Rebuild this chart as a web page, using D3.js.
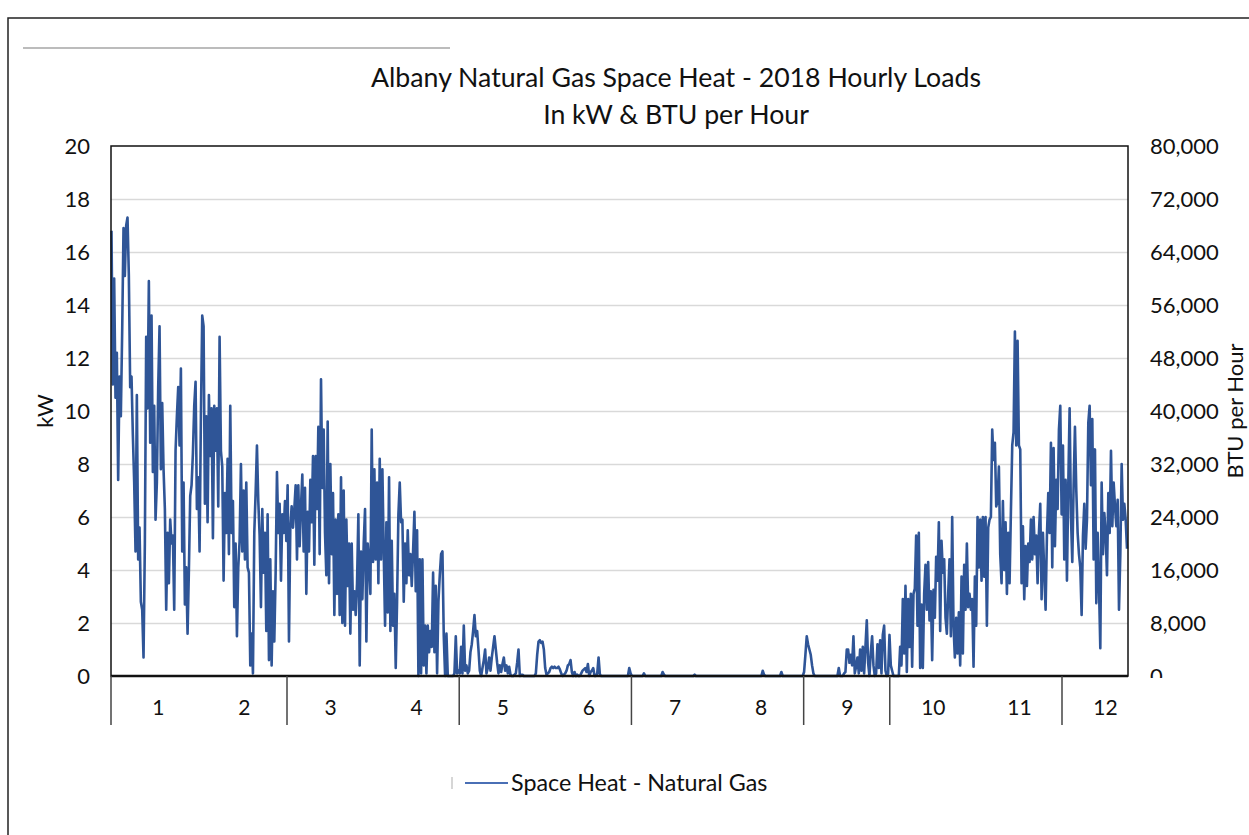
<!DOCTYPE html>
<html>
<head>
<meta charset="utf-8">
<script src="https://cdn.jsdelivr.net/npm/d3@7"></script>
<style>
html,body{margin:0;padding:0;background:#fff;overflow:hidden}
svg{display:block;font-family:Lato,"Open Sans",sans-serif}
</style>
</head>
<body>
<div id="chart"></div>
<script>
const loadJanFeb = [16.8,11.0,15.0,10.5,12.2,7.4,11.3,9.8,13.0,16.9,15.1,17.0,17.3,15.1,10.9,11.3,9.1,7.3,4.7,10.6,
    4.4,5.6,2.8,2.5,0.7,5.0,12.8,10.1,14.9,8.8,13.6,7.7,10.2,5.9,7.3,10.9,13.2,7.8,10.3,7.8,
    6.3,2.5,5.4,3.5,5.9,5.0,5.3,2.5,8.5,9.8,10.9,8.7,11.6,4.7,7.3,2.7,4.1,1.6,4.0,6.8,
    7.2,8.4,10.2,11.1,6.3,7.5,4.7,9.8,13.6,13.2,6.5,9.8,5.8,
    10.6,8.3,10.1,5.2,10.2,8.5,10.1,6.4,12.8,8.5,7.9,3.6,6.9,5.4,8.2,4.6,10.2,5.4,6.6,2.6,
    5.0,1.5,4.1,5.1,8.0,4.7,7.0,4.4,7.3,4.1,3.9,0.4,1.6,0.1,5.4,6.9,8.7,6.6,5.3,2.6,
    6.3,3.9,5.4,1.7,6.1,0.6,4.4,0.4,3.2,1.3,3.9,7.7,5.4,6.5,3.6,6.1,5.4,6.6,5.1,7.2,
    1.3,5.6,6.4,5.6,6.3,7.2,4.4,7.2,4.9,6.4];
const loadMarApr = [7.6,4.7,7.1,3.1,6.2,4.7,7.4,5.8,8.3,4.2,8.3,6.3,9.4,4.6,11.2,7.1,9.3,5.4,3.8,9.6,
    3.5,8.0,4.6,6.9,2.3,5.9,3.1,6.1,2.3,7.5,2.0,7.0,1.9,5.9,3.4,5.0,1.6,5.0,2.5,3.2,
    2.3,3.5,6.1,0.4,4.7,2.9,5.0,6.3,1.3,5.0,4.3,3.1,9.3,4.3,7.8,4.4,7.3,3.5,8.2,4.4,
    7.8,4.7,1.9,5.8,2.4,7.5,1.7,5.1,1.9,3.1,0.3,2.8,6.1,7.3,5.8,5.9,2.8,5.0,3.5,5.5,
    3.8,4.6,3.4,4.7,6.2,3.2,5.5,0.0,4.4,0.1,4.4,0.4,1.9,0.1,1.9,0.9,1.7,1.1,3.9,0.9,
    3.4,0.1,2.8,3.8,4.6,4.7,1.5,0.0,1.6,0.0,0.0,0.0,0.0,0.0,0.1,1.5,0.1,0.2,0.1,1.1,
    0.1,1.9,0.2,0.4,0.1,0.2,0.9,1.2,1.7,2.3,1.5];
const loadMayAug = [1.7,1.0,0.2,0,0.3,0.6,1.0,0.1,0.3,0.7,0.2,0.7,1.1,1.5,1.0,0.5,0.1,0.4,0.15,0.45,
    0.7,0.2,0.4,0.1,0.35,0.05,0,0,0.05,0.1,0.5,1.0,0,0.05,0.05,0,0,0,0,0,
    0,0,0,0,0.1,0.8,1.3,1.35,1.25,1.3,1.0,0.3,0.05,0.1,0.15,0.3,0.35,0.3,0.35,0.3,
    0.3,0.35,0.25,0.1,0,0.05,0.1,0.2,0.4,0.45,0.6,0.15,0,0.15,0,0.05,0,0,0.1,0.2,
    0.25,0.3,0.15,0.45,0,0.15,0.2,0.3,0,0,0.1,0.7,0.05,0,0,0,0,0,0,0,
    0,0,0,0,0,0,0,0,0,0,0,0,0,0,0.3,0.1,0,0,0,0,
    0,0,0,0,0,0.1,0,0,0,0,0,0,0,0,0,0,0,0,0,0.15,
    0.05,0,0,0,0,0,0,0,0,0,0,0,0,0,0,0,0,0,0,0,
    0,0,0,0.05,0,0,0,0,0,0,0,0,0,0,0,0,0,0,0,0,
    0,0,0,0,0,0,0,0,0,0,0,0,0,0,0,0,0,0,0,0,
    0,0,0,0,0,0,0,0,0,0,0,0,0,0,0.2,0.05,0,0,0,0,
    0,0,0,0,0,0,0,0,0.15,0,0,0,0,0,0,0,0,0,0,0,
    0,0,0,0,0,0.15,0.8,1.5,1.2,1.0,0.8,0.4,0.1,0,0,0,0,0,0,0,
    0,0,0,0,0,0,0,0,0,0,0];
const loadSepOct = [0.3,0,0,0,0.1,0.15,1.0,1.0,0.5,0.8,0.4,1.5,0.1,0.35,0.7,0.1,1.0,0.2,1.1,0.1,
    1.1,2.1,0.5,0,0.9,1.5,0.4,0,0.1,1.2,0.3,1.35,0.1,1.55,1.9,0.2,0,0.1,1.55,0.4,
    0.2,0,0,0,0,0,1.1,0.4,2.9,0.85,3.4,0.15,2.9,1.1,3.1,0.35,3.1,3.3,5.3,1.9,
    5.4,0.3,2.7,0.3,3.1,4.2,2.5,4.3,2.1,3.2,0.6,3.25,2.2,4.5,3.6,5.8,1.7,5.1,3.9,4.4,
    2.2,1.6,3.1,4.4,1.5,6.0,1.9,0.7,2.2,0.85,2.4,0.4,3.75,0.85,4.2,2.5,5.0,2.6,3.1,2.5,
    2.9,0.35,3.75,1.9,6.0,4.1,5.9,3.6,6.0,3.75,6.0,1.9,5.6,5.9,6.0,9.3,8.15,8.8,6.4,
    6.6,7.9,4.6,3.5];
const loadNovDec = [6.6,4.0,5.8,3.1,5.4,3.5,6.2,8.7,9.2,13.0,8.7,12.65,8.7,8.55,3.5,5.65,2.9,4.9,3.4,5.0,
    4.3,5.9,4.4,6.0,4.6,5.3,3.5,5.4,6.5,2.9,5.4,3.9,2.5,5.3,6.9,5.4,8.8,4.1,8.6,4.9,
    7.4,6.3,9.3,10.2,6.1,8.7,4.4,7.4,3.6,7.2,10.1,6.0,4.3,7.2,9.4,7.0,5.4,4.6,4.1,2.3,
    5.3,6.5,4.8,5.9,9.55,10.2,7.2,9.7,4.4,8.55,2.75,5.4,3.4,1.05,7.3,4.6,6.15,5.4,3.8,6.9,
    5.4,8.5,5.65,7.3,6.4,5.65,6.65,2.5,4.6,8.0,5.9,6.5,5.9,4.8];

const kwTicks = [0,2,4,6,8,10,12,14,16,18,20];
const btuTicks = [0,8000,16000,24000,32000,40000,48000,56000,64000,72000,80000];
const monthLabels = [1,2,3,4,5,6,7,8,9,10,11,12];
const monthDividers = [2.5,4.5,6.5,8.5,9.5,11.5];
const seriesName = "Space Heat - Natural Gas";
const titleLines = ["Albany Natural Gas Space Heat - 2018 Hourly Loads", "In kW & BTU per Hour"];

const width = 1249, height = 835;
const plot = {left: 111, right: 1128, top: 146, bottom: 676};
const lineColor = "#2f5597";

let series = [].concat(loadJanFeb, loadMarApr, loadMayAug, loadSepOct, loadNovDec);
let lastHour = 8759;
let points = series.map((v, i) => ({hour: i * lastHour / (series.length - 1), kw: v}));

let x = d3.scaleLinear().domain([0, lastHour]).range([plot.left + 0.5, plot.right - 1]);
let y = d3.scaleLinear().domain([0, 20]).range([plot.bottom, plot.top]);
let yBtu = d3.scaleLinear().domain([0, 80000]).range([plot.bottom, plot.top]);
let xMonth = d3.scaleLinear().domain([2.5, 11.5]).range([287, 1062]);

let svg = d3.select("#chart").append("svg")
    .attr("width", width)
    .attr("height", height);

// outer frame and the stray separator line
svg.append("rect")
    .attr("x", 8).attr("y", 18)
    .attr("width", width + 20).attr("height", height + 20)
    .attr("fill", "none").attr("stroke", "#222").attr("stroke-width", 1.5);
svg.append("line")
    .attr("x1", 23).attr("x2", 450).attr("y1", 48).attr("y2", 48)
    .attr("stroke", "#a6a6a6").attr("stroke-width", 1.5);

// title
svg.append("g").selectAll("text").data(titleLines).join("text")
    .attr("x", 676)
    .attr("y", (d, i) => 87 + i * 37)
    .attr("text-anchor", "middle")
    .attr("font-size", 26.7)
    .attr("fill", "#111")
    .text(d => d);

// grid
svg.append("g").selectAll("line")
    .data(kwTicks.filter(d => d > 0 && d < 20))
    .join("line")
    .attr("x1", plot.left).attr("x2", plot.right)
    .attr("y1", d => Math.round(y(d)) + 0.5).attr("y2", d => Math.round(y(d)) + 0.5)
    .attr("stroke", "#d9d9d9").attr("stroke-width", 1.5);

// data line
svg.append("path")
    .datum(points)
    .attr("fill", "none")
    .attr("stroke", lineColor)
    .attr("stroke-width", 2.6)
    .attr("stroke-linejoin", "round")
    .attr("d", d3.line().x(d => x(d.hour)).y(d => y(d.kw)));

// plot border
svg.append("rect")
    .attr("x", plot.left).attr("y", plot.top)
    .attr("width", plot.right - plot.left).attr("height", plot.bottom - plot.top)
    .attr("fill", "none").attr("stroke", "#111").attr("stroke-width", 1.5);
svg.append("line")
    .attr("x1", plot.left).attr("x2", plot.right)
    .attr("y1", plot.bottom).attr("y2", plot.bottom)
    .attr("stroke", "#111").attr("stroke-width", 2.5);

// left axis (kW)
let leftAxis = svg.append("g")
    .attr("transform", `translate(${plot.left},0)`)
    .call(d3.axisLeft(y).tickValues(kwTicks).tickSize(0).tickPadding(21));
leftAxis.select(".domain").remove();
leftAxis.selectAll("text").attr("font-size", 22).attr("font-family", "Lato").attr("fill", "#111");

// right axis (BTU per hour), bottom label partly hidden as in the original
svg.append("clipPath").attr("id", "rightClip")
    .append("rect").attr("x", plot.right).attr("y", 0).attr("width", 200).attr("height", plot.bottom + 2);
let rightAxis = svg.append("g")
    .attr("clip-path", "url(#rightClip)")
    .append("g")
    .attr("transform", `translate(${plot.right},0)`)
    .call(d3.axisRight(yBtu).tickValues(btuTicks).tickFormat(d3.format(",")).tickSize(0).tickPadding(22));
rightAxis.select(".domain").remove();
rightAxis.selectAll("text").attr("font-size", 22).attr("font-family", "Lato").attr("fill", "#111");

// month axis
let monthAxis = svg.append("g")
    .attr("transform", `translate(0,${plot.bottom})`)
    .call(d3.axisBottom(xMonth).tickValues(monthLabels).tickSize(0).tickPadding(24));
monthAxis.select(".domain").remove();
monthAxis.selectAll("text").attr("font-size", 21).attr("font-family", "Lato").attr("fill", "#111");

svg.append("g").selectAll("line")
    .data(monthDividers)
    .join("line")
    .attr("x1", d => xMonth(d)).attr("x2", d => xMonth(d))
    .attr("y1", plot.bottom).attr("y2", plot.bottom + 49)
    .attr("stroke", "#444").attr("stroke-width", 1.5);
svg.append("line")
    .attr("x1", plot.left).attr("x2", plot.left)
    .attr("y1", plot.bottom).attr("y2", plot.bottom + 49)
    .attr("stroke", "#444").attr("stroke-width", 1.5);

// axis titles
svg.append("text")
    .attr("transform", `translate(53,${(plot.top + plot.bottom) / 2}) rotate(-90)`)
    .attr("text-anchor", "middle")
    .attr("font-size", 22)
    .attr("fill", "#111")
    .text("kW");
svg.append("text")
    .attr("transform", `translate(1243,${(plot.top + plot.bottom) / 2}) rotate(-90)`)
    .attr("text-anchor", "middle")
    .attr("font-size", 22)
    .attr("fill", "#111")
    .text("BTU per Hour");

// legend
let legend = svg.append("g").attr("transform", "translate(452,783)");
legend.append("line")
    .attr("x1", 0).attr("x2", 0).attr("y1", -6).attr("y2", 6)
    .attr("stroke", "#c8c8c8").attr("stroke-width", 1.5);
legend.append("line")
    .attr("x1", 13).attr("x2", 56).attr("y1", 0).attr("y2", 0)
    .attr("stroke", "#4a6fb5").attr("stroke-width", 2);
legend.append("text")
    .attr("x", 59).attr("y", 8)
    .attr("font-size", 23.3)
    .attr("fill", "#111")
    .text(seriesName);
</script>
</body>
</html>
